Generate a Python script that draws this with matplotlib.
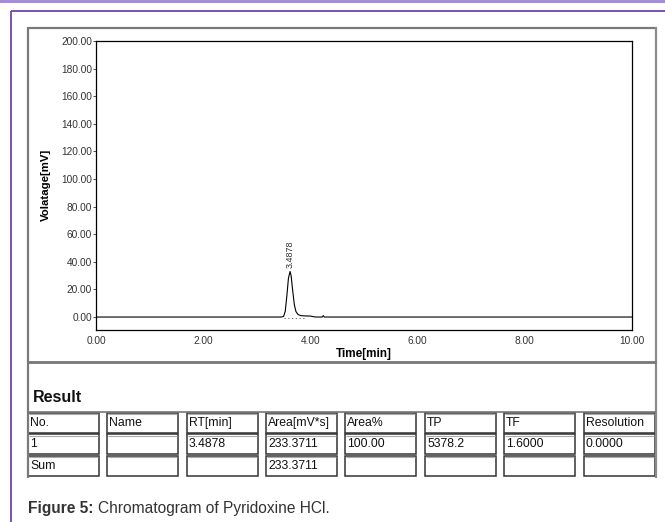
import matplotlib
matplotlib.use("Agg")
import matplotlib.pyplot as plt
from matplotlib.patches import Rectangle
from matplotlib.lines import Line2D

plt.rcParams['font.family'] = ['Liberation Sans', 'DejaVu Sans']

# ---- data ----
time_min = [0.0, 3.46, 3.50, 3.53, 3.56, 3.59, 3.62, 3.64, 3.67, 3.70, 3.73, 3.77,
            3.82, 3.90, 4.00, 4.05, 4.10, 4.22, 4.24, 4.26, 10.0]
voltage_mv = [0.0, 0.0, 0.5, 4.0, 15.0, 28.0, 33.0, 30.0, 19.0, 9.0, 4.0, 1.8,
              1.0, 0.8, 0.7, 0.3, 0.0, 0.0, 1.0, 0.0, 0.0]
peak_rt_label = "3.4878"
peak_time = 3.62
peak_height = 33.0

x_ticks = [0, 2, 4, 6, 8, 10]
y_ticks = [0, 20, 40, 60, 80, 100, 120, 140, 160, 180, 200]

table_headers = ["No.", "Name", "RT[min]", "Area[mV*s]", "Area%", "TP", "TF", "Resolution"]
table_row1 = ["1", "", "3.4878", "233.3711", "100.00", "5378.2", "1.6000", "0.0000"]
table_row_sum = ["Sum", "", "", "233.3711", "", "", "", ""]

W, H = 665, 522
fig = plt.figure(figsize=(W / 100, H / 100), dpi=100)
fig.patch.set_facecolor("white")


def fx(x):
    return x / W


def fy(y):
    return 1 - y / H


def hline(x0, x1, y, color, lw):
    fig.add_artist(Line2D([fx(x0), fx(x1)], [fy(y), fy(y)], color=color, lw=lw,
                          transform=fig.transFigure, solid_capstyle='butt'))


def vline(x, y0, y1, color, lw):
    fig.add_artist(Line2D([fx(x), fx(x)], [fy(y0), fy(y1)], color=color, lw=lw,
                          transform=fig.transFigure, solid_capstyle='butt'))


# page decorations (purple frame)
fig.add_artist(Rectangle((0, fy(2.5)), 1, fy(0) - fy(2.5), transform=fig.transFigure,
                         facecolor="#a48fd2", edgecolor="none"))
hline(10.5, 665, 10.5, "#6f43b0", 1.3)
vline(10.5, 10.5, 522, "#6f43b0", 1.3)

# outer gray box
hline(27, 657, 28, "#7a7a7a", 1.6)
vline(28, 27, 478, "#7a7a7a", 1.6)
vline(656, 27, 478, "#8a8a8a", 1.6)
hline(28, 656, 362, "#777777", 2.0)
hline(28, 656, 411.5, "#777777", 1.2)

# ---- chromatogram axes ----
left, right, top, bottom = 96, 632, 41, 330
ax = fig.add_axes([fx(left), fy(bottom), fx(right - left), (bottom - top) / H])
ax.plot(time_min, voltage_mv, color="black", lw=0.8)
ax.plot([3.50, 3.90], [-0.6, -0.6], color="#555555", lw=0.6, ls=(0, (1.5, 3)))
ax.set_xlim(0, 10)
ax.set_ylim(-9.4, 200)
ax.set_xticks(x_ticks)
ax.set_xticklabels([f"{v:.2f}" for v in x_ticks])
ax.set_yticks(y_ticks)
ax.set_yticklabels([f"{v:.2f}" for v in y_ticks])
ax.tick_params(axis='both', labelsize=7.3, colors="#333333", length=2, width=0.6, pad=1)
ax.tick_params(axis='x', length=0, pad=4)
for s in ax.spines.values():
    s.set_linewidth(0.9)
    s.set_color("black")
ax.set_xlabel("Time[min]", fontsize=8.5, fontweight="bold", labelpad=2)
ax.set_ylabel("Volatage[mV]", fontsize=8.2, fontweight="bold")
ax.yaxis.set_label_coords((51 - left) / (right - left), (bottom - 185) / (bottom - top))
ax.text(peak_time, peak_height + 2.5, peak_rt_label, rotation=90, ha="center",
        va="bottom", fontsize=6.5, color="#333333")

# ---- result table ----
fig.text(fx(33), fy(397), "Result", fontsize=11.5, fontweight="bold",
         ha="left", va="center", color="#111111")

col_left = [28, 107, 187, 266, 345, 425, 504, 584]
col_w = 71
rows = [(412.5, 432.5), (434, 453.5), (455.5, 476)]
for (y0, y1), vals in zip(rows, [table_headers, table_row1, table_row_sum]):
    for xl, val in zip(col_left, vals):
        fig.add_artist(Rectangle((fx(xl), fy(y1)), col_w / W, (y1 - y0) / H,
                                 transform=fig.transFigure, facecolor="white",
                                 edgecolor="#333333", lw=1.1))
        hline(xl + 1, xl + col_w - 1, y0 + 1.6, "#aaaaaa", 0.8)
        if val:
            fig.text(fx(xl + 2), fy((y0 + y1) / 2 + 0.5), val, fontsize=8.8,
                     ha="left", va="center", color="#111111")

# caption
t1 = fig.text(fx(28), fy(508), "Figure 5:", fontsize=11.2, fontweight="bold",
              ha="left", va="center", color="#333333")
fig.canvas.draw()
bb = t1.get_window_extent()
fig.text(bb.x1 / W + 4 / W, fy(508), "Chromatogram of Pyridoxine HCl.", fontsize=11.2,
         ha="left", va="center", color="#333333")

fig.savefig("out.png", dpi=100)
